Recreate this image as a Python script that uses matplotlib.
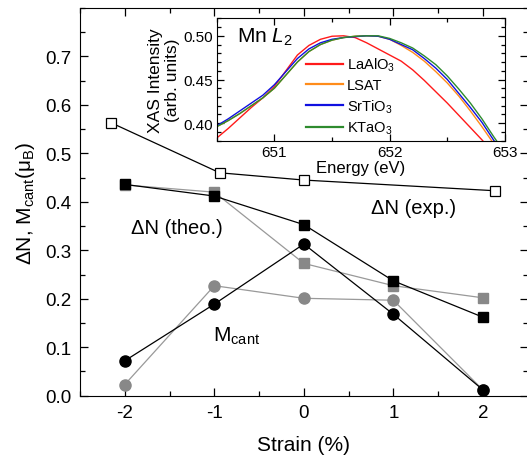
import matplotlib
matplotlib.use("Agg")
import matplotlib.pyplot as plt
from matplotlib.ticker import MultipleLocator

plt.rcParams['font.family'] = ['Liberation Sans', 'DejaVu Sans']
plt.rcParams['mathtext.fontset'] = 'custom'
plt.rcParams['mathtext.rm'] = 'Liberation Sans'
plt.rcParams['mathtext.it'] = 'Liberation Sans:italic'

# ----- main panel data -----
strain = [-2, -1, 0, 1, 2]
dN_theo_black = [0.436, 0.412, 0.353, 0.237, 0.162]
dN_theo_gray = [0.435, 0.420, 0.273, 0.227, 0.202]
mcant_black = [0.072, 0.189, 0.313, 0.168, 0.012]
mcant_gray = [0.023, 0.227, 0.201, 0.197, 0.012]

strain_exp = [-2.15, -0.94, 0.0, 2.13]
dN_exp = [0.563, 0.460, 0.445, 0.423]

# ----- inset data (Mn L2 edge) -----
energy = [650.5, 650.6, 650.7, 650.8, 650.9, 651.0, 651.1, 651.2, 651.3,
          651.4, 651.5, 651.6, 651.7, 651.8, 651.9, 652.0, 652.1, 652.2,
          652.3, 652.4, 652.5, 652.6, 652.7, 652.8, 652.9, 653.0]
xas_lao = [0.383, 0.394, 0.406, 0.418, 0.429, 0.442, 0.460, 0.478, 0.489,
           0.496, 0.4995, 0.500, 0.498, 0.492, 0.485, 0.478, 0.471, 0.461,
           0.449, 0.436, 0.423, 0.409, 0.395, 0.381, 0.366, 0.350]
xas_lsat = [0.396, 0.403, 0.411, 0.420, 0.429, 0.440, 0.455, 0.470, 0.482,
            0.490, 0.495, 0.498, 0.4995, 0.500, 0.4995, 0.496, 0.489, 0.481,
            0.471, 0.459, 0.446, 0.431, 0.414, 0.396, 0.377, 0.358]
xas_sto = [0.397, 0.405, 0.414, 0.423, 0.432, 0.444, 0.459, 0.474, 0.485,
           0.492, 0.496, 0.498, 0.499, 0.500, 0.4995, 0.496, 0.490, 0.484,
           0.474, 0.463, 0.450, 0.434, 0.418, 0.401, 0.381, 0.361]
xas_kto = [0.396, 0.403, 0.411, 0.420, 0.429, 0.440, 0.455, 0.470, 0.482,
           0.490, 0.495, 0.498, 0.4995, 0.500, 0.500, 0.497, 0.492, 0.486,
           0.477, 0.467, 0.454, 0.439, 0.423, 0.405, 0.385, 0.366]

fig = plt.figure(figsize=(5.27, 4.6), dpi=100)
ax = fig.add_axes([0.1518, 0.1376, 0.8495, 0.8428])

gray = '#888888'
ax.plot(strain, dN_theo_gray, '-s', color='#999999', mfc=gray, mec=gray, ms=7, lw=0.9)
ax.plot(strain, mcant_gray, '-o', color='#999999', mfc=gray, mec=gray, ms=8, lw=0.9)
ax.plot(strain, dN_theo_black, '-s', color='k', ms=7.5, lw=0.9)
ax.plot(strain, mcant_black, '-o', color='k', ms=8, lw=0.9)
ax.plot(strain_exp, dN_exp, '-s', color='k', mfc='white', mec='k', ms=6.5, lw=0.9, mew=0.9)

ax.set_xlim(-2.5, 2.5)
ax.set_ylim(0, 0.8)
ax.set_xticks([-2, -1, 0, 1, 2])
ax.set_xticklabels(['-2', '-1', '0', '1', '2'])
ax.set_yticks([0.0, 0.1, 0.2, 0.3, 0.4, 0.5, 0.6, 0.7])
ax.xaxis.set_minor_locator(MultipleLocator(0.5))
ax.yaxis.set_minor_locator(MultipleLocator(0.05))
ax.tick_params(which='both', direction='in', top=True, right=True, labelsize=13.5, pad=6)
ax.tick_params(which='major', length=6, width=0.9)
ax.tick_params(which='minor', length=3.5, width=0.9)
ax.spines['right'].set_visible(False)
ax.set_xlabel('Strain (%)', fontsize=15, labelpad=10)
ax.set_ylabel('ΔN, M$_{\\rm cant}$(μ$_{\\rm B}$)', fontsize=15, labelpad=6)

ax.text(-1.418, 0.347, 'ΔN (theo.)', fontsize=14.5, ha='center', va='center')
ax.text(1.228, 0.3885, 'ΔN (exp.)', fontsize=14.5, ha='center', va='center')
ax.text(-1.02, 0.113, 'M$_{\\rm cant}$', fontsize=15, ha='left', va='baseline')

# ----- inset -----
ins = fig.add_axes([0.4112, 0.692, 0.547, 0.266])
ins.plot(energy, xas_lao, color='#ff1a1a', lw=1.0, label='LaAlO$_3$')
ins.plot(energy, xas_lsat, color='#ff8c1a', lw=1.0, label='LSAT')
ins.plot(energy, xas_sto, color='#1010e0', lw=1.0, label='SrTiO$_3$')
ins.plot(energy, xas_kto, color='#2e8b2e', lw=1.0, label='KTaO$_3$')
ins.set_xlim(650.5, 653)
ins.set_ylim(0.38, 0.52)
ins.set_xticks([651, 652, 653])
ins.set_yticks([0.40, 0.45, 0.50])
ins.set_yticklabels(['0.40', '0.45', '0.50'])
ins.xaxis.set_minor_locator(MultipleLocator(0.5))
ins.yaxis.set_minor_locator(MultipleLocator(0.01))
ins.tick_params(which='both', direction='in', top=True, right=True, labelsize=11, pad=3)
ins.tick_params(which='major', length=5, width=0.9)
ins.tick_params(which='minor', length=3, width=0.9)
ins.set_xlabel('Energy (eV)', fontsize=12, labelpad=1)
ins.set_ylabel('XAS Intensity\n(arb. units)', fontsize=12.5, labelpad=2, linespacing=1.2)
ins.text(0.069, 0.85, 'Mn $L_2$', transform=ins.transAxes, fontsize=15, ha='left', va='center')
leg = ins.legend(loc='upper left', bbox_to_anchor=(0.29, 0.74), frameon=False, fontsize=10.5,
                 handlelength=2.5, handletextpad=0.3, labelspacing=0.35, borderaxespad=0)
for h in leg.get_lines():
    h.set_linewidth(1.6)

plt.savefig('out.png', dpi=100)
